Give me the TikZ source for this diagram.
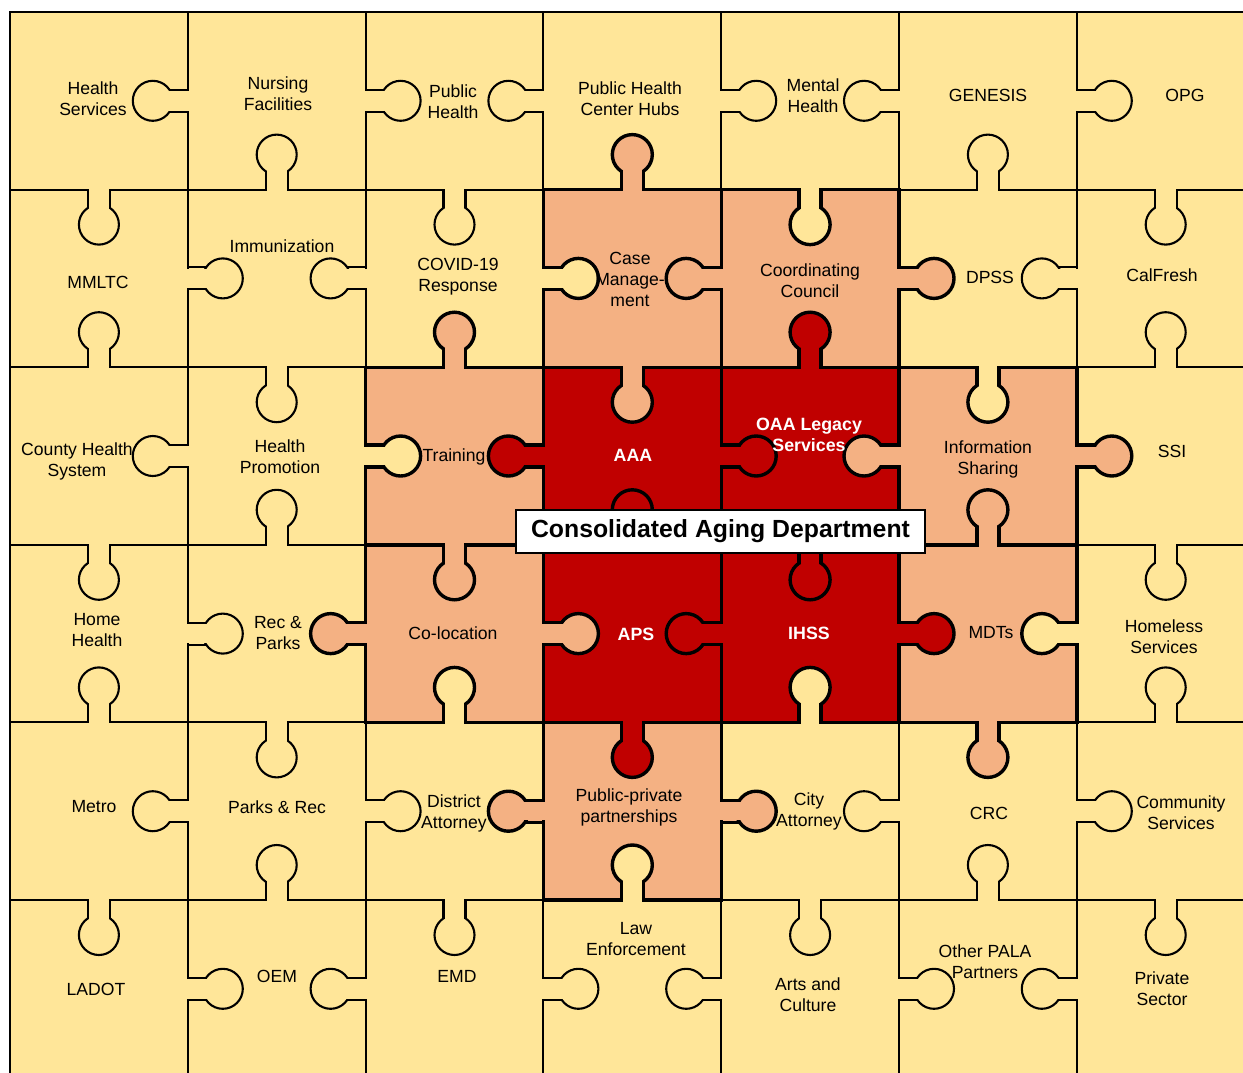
\documentclass[tikz,border=0pt]{standalone}
\usepackage{fontspec}
\setmainfont{Liberation Sans}
\definecolor{yel}{HTML}{FFE699}
\definecolor{sal}{HTML}{F4B183}
\definecolor{dred}{HTML}{C00000}
\def\yelname{yel}
\def\setcc#1#2#3{\expandafter\def\csname cc#1-#2\endcsname{#3}}
\setcc{1}{3}{sal}\setcc{1}{4}{sal}
\setcc{2}{2}{sal}\setcc{2}{3}{dred}\setcc{2}{4}{dred}\setcc{2}{5}{sal}
\setcc{3}{2}{sal}\setcc{3}{3}{dred}\setcc{3}{4}{dred}\setcc{3}{5}{sal}
\setcc{4}{3}{sal}
\def\getcc#1#2{\ifcsname cc#1-#2\endcsname\csname cc#1-#2\endcsname\else yel\fi}
\newcommand\setklw{%
  \ifx\oc\yelname
    \ifx\tc\yelname \def\klw{1.05pt}\def\kh{9.8}\else\def\klw{1.7pt}\def\kh{9.2}\fi
  \else \def\klw{1.7pt}\def\kh{9.2}\fi}
\newcommand\forallknobs[1]{%
  \foreach \i in {0,...,5}{\foreach \j in {0,...,5}{%
    \pgfmathtruncatemacro\jn{\j+1}%
    \pgfmathsetmacro\ex{10+177.8*\jn}%
    \pgfmathsetmacro\ey{12+177.6*(\i+0.5)}%
    \pgfmathtruncatemacro\pty{mod(\i+\j,2)}%
    \def\px{0}\def\py{1}\def\dy{0}%
    \ifnum\pty=1 \def\dx{1}\edef\oc{\getcc{\i}{\j}}\edef\tc{\getcc{\i}{\jn}}%
    \else \def\dx{-1}\edef\oc{\getcc{\i}{\jn}}\edef\tc{\getcc{\i}{\j}}\fi
    \setklw #1}}%
  \foreach \i in {0,...,4}{\foreach \j in {0,...,6}{%
    \pgfmathtruncatemacro\inx{\i+1}%
    \pgfmathsetmacro\ex{10+177.8*(\j+0.5)}%
    \pgfmathsetmacro\ey{12+177.6*\inx}%
    \pgfmathtruncatemacro\pty{mod(\i+\j,2)}%
    \def\px{1}\def\py{0}\def\dx{0}%
    \ifnum\pty=0 \def\dy{1}\edef\oc{\getcc{\i}{\j}}\edef\tc{\getcc{\inx}{\j}}%
    \else \def\dy{-1}\edef\oc{\getcc{\inx}{\j}}\edef\tc{\getcc{\i}{\j}}\fi
    \setklw #1}}}
\tikzset{
  lbl/.style={font=\fontsize{8.8}{10.5}\selectfont, align=center, inner sep=0pt},
  wlbl/.style={lbl, text=white, font=\bfseries\fontsize{8.9}{10.5}\selectfont},
  boxlbl/.style={draw, fill=white, line width=1pt, minimum width=204.5pt, minimum height=21.5pt, inner sep=0pt, font=\bfseries\fontsize{12.4}{14}\selectfont}
}
\begin{document}
\begin{tikzpicture}[x=0.5pt,y=-0.5pt]
\useasboundingbox (0,0) rectangle (1243,1072);
\fill[white] (0,0) rectangle (1243,1072);
\begin{scope}
\clip (0,0) rectangle (1243,1072);
% cells
\foreach \i in {0,...,5}{\foreach \j in {0,...,6}{%
  \edef\oc{\getcc{\i}{\j}}%
  \fill[fill=\oc] ({10+177.8*\j},{12+177.6*\i}) rectangle ({10+177.8*(\j+1)},{12+177.6*(\i+1)});}}
% knob fills
\forallknobs{\fill[fill=\oc] ({\ex+35*\dx},{\ey+35*\dy}) circle (20);
  \fill[fill=\oc] ({\ex-2*\dx-11*\px},{\ey-2*\dy-11*\py}) rectangle ({\ex+35*\dx+11*\px},{\ey+35*\dy+11*\py});}
% grid lines (vertical)
\foreach \i in {0,...,5}{\foreach \k in {0,...,6}{%
  \pgfmathtruncatemacro\km{\k-1}%
  \pgfmathsetmacro\gx{10+177.8*\k}%
  \pgfmathsetmacro\gya{12+177.6*\i}%
  \pgfmathsetmacro\gyb{12+177.6*(\i+1)}%
  \ifnum\k=0 \def\oc{yel}\def\tc{yel}\else\edef\oc{\getcc{\i}{\km}}\edef\tc{\getcc{\i}{\k}}\fi
  \setklw
  \draw[line width=\klw, line cap=rect] (\gx,\gya) -- (\gx,\gyb);}}
% grid lines (horizontal)
\foreach \m in {0,...,5}{\foreach \j in {0,...,6}{%
  \pgfmathtruncatemacro\mm{\m-1}%
  \pgfmathsetmacro\gy{12+177.6*\m}%
  \pgfmathsetmacro\gxa{10+177.8*\j}%
  \pgfmathsetmacro\gxb{10+177.8*(\j+1)}%
  \ifnum\m=0 \def\oc{yel}\def\tc{yel}\else\edef\oc{\getcc{\mm}{\j}}\edef\tc{\getcc{\m}{\j}}\fi
  \setklw
  \draw[line width=\klw, line cap=rect] (\gxa,\gy) -- (\gxb,\gy);}}
% knob outlines
\forallknobs{\draw[line width=\klw] ({\ex+35*\dx},{\ey+35*\dy}) circle (20);
  \draw[line width=\klw] ({\ex+11*\px},{\ey+11*\py}) -- ({\ex+11*\px+18.3*\dx},{\ey+11*\py+18.3*\dy});
  \draw[line width=\klw] ({\ex-11*\px},{\ey-11*\py}) -- ({\ex-11*\px+18.3*\dx},{\ey-11*\py+18.3*\dy});}
% neck refills
\forallknobs{\fill[fill=\oc] ({\ex-3*\dx-\kh*\px},{\ey-3*\dy-\kh*\py}) rectangle ({\ex+35*\dx+\kh*\px},{\ey+35*\dy+\kh*\py});}
\end{scope}
% labels row 0
\node[lbl] (hs) at (93,99) {Health\\Services};
\node[lbl] (nf) at (278,94) {Nursing\\Facilities};
\node[lbl] (ph) at (453,102) {Public\\Health};
\node[lbl] (phc) at (630,99) {Public Health\\Center Hubs};
\node[lbl] (mh) at (813,96) {Mental\\Health};
\node[lbl] (gen) at (988,95) {GENESIS};
\node[lbl] (opg) at (1185,95) {OPG};
% row 1
\node[lbl] (mml) at (98,282) {MMLTC};
\node[lbl] (imm) at (282,246) {Immunization};
\node[lbl] (cov) at (458,277) {COVID-19\\Response};
\node[lbl] (cm) at (630,279) {Case\\Manage-\\ment};
\node[lbl] (cc) at (810,281) {Coordinating\\Council};
\node[lbl] (dpss) at (990,277) {DPSS};
\node[lbl] (cal) at (1162,275) {CalFresh};
% row 2
\node[lbl] (chs) at (77,461) {County Health\\System};
\node[lbl] (hp) at (280,457) {Health\\Promotion};
\node[lbl] (tr) at (454,457) {Training};
\node[wlbl] (aaa) at (633,455) {AAA};
\node[wlbl] (oaa) at (809,435) {OAA Legacy\\Services};
\node[lbl] (is) at (988,459) {Information\\Sharing};
\node[lbl] (ssi) at (1172,451) {SSI};
% row 3
\node[lbl] (hh) at (97,630) {Home\\Health};
\node[lbl] (rp) at (278,633) {Rec \&\\Parks};
\node[lbl] (co) at (453,633) {Co-location};
\node[wlbl] (aps) at (636,634) {APS};
\node[wlbl] (ihss) at (809,633) {IHSS};
\node[lbl] (mdt) at (991,633) {MDTs};
\node[lbl] (hls) at (1164,637) {Homeless\\Services};
% row 4
\node[lbl] (met) at (94,807) {Metro};
\node[lbl] (pr) at (277,807) {Parks \& Rec};
\node[lbl] (da) at (454,813) {District\\Attorney};
\node[lbl] (ppp) at (629,807) {Public-private\\partnerships};
\node[lbl] (ca) at (809,811) {City\\Attorney};
\node[lbl] (crc) at (989,813) {CRC};
\node[lbl] (cs) at (1181,813) {Community\\Services};
% row 5
\node[lbl] (lad) at (96,989) {LADOT};
\node[lbl] (oem) at (277,976) {OEM};
\node[lbl] (emd) at (457,976) {EMD};
\node[lbl] (le) at (636,939) {Law\\Enforcement};
\node[lbl] (ac) at (808,995) {Arts and\\Culture};
\node[lbl] (pala) at (985,962) {Other PALA\\Partners};
\node[lbl] (ps) at (1162,989) {Private\\Sector};
% central label
\node[boxlbl] (cad) at (720.5,531.5) {Consolidated Aging Department};
\end{tikzpicture}
\end{document}
